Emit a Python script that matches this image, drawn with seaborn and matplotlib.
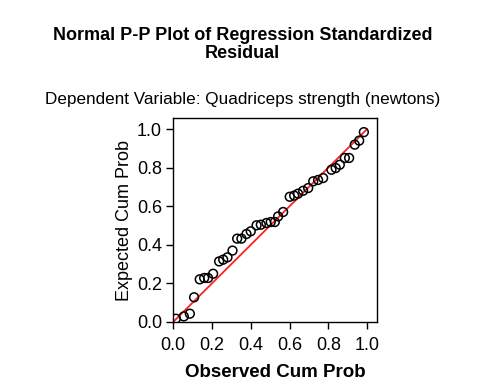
import matplotlib
matplotlib.use("Agg")
import matplotlib.pyplot as plt
import seaborn as sns

# observed vs expected cumulative probabilities
observed = [0.014, 0.055, 0.086, 0.108, 0.137, 0.160, 0.180, 0.206, 0.237, 0.258,
            0.280, 0.306, 0.330, 0.352, 0.378, 0.400, 0.430, 0.452, 0.481, 0.503,
            0.524, 0.541, 0.567, 0.601, 0.624, 0.644, 0.670, 0.696, 0.722, 0.747,
            0.773, 0.816, 0.838, 0.859, 0.885, 0.907, 0.936, 0.959, 0.983]
expected = [0.017, 0.029, 0.043, 0.128, 0.221, 0.228, 0.228, 0.250, 0.314, 0.323,
            0.335, 0.370, 0.432, 0.432, 0.456, 0.470, 0.501, 0.504, 0.513, 0.518,
            0.518, 0.547, 0.570, 0.649, 0.655, 0.665, 0.680, 0.694, 0.729, 0.736,
            0.746, 0.789, 0.798, 0.815, 0.850, 0.850, 0.919, 0.940, 0.984]
ref_line = [0.0, 1.0]
ticks = [0.0, 0.2, 0.4, 0.6, 0.8, 1.0]

sns.set_style("ticks")
plt.rcParams["font.family"] = ["Liberation Sans", "DejaVu Sans"]
plt.rcParams["text.color"] = "black"
plt.rcParams["axes.labelcolor"] = "black"

fig = plt.figure(figsize=(4.85, 3.87), dpi=100)
ax = fig.add_axes([0.357, 0.168, 0.42, 0.527])

sns.lineplot(x=ref_line, y=ref_line, color="#ff2020", linewidth=1.3, ax=ax)
sns.scatterplot(x=observed, y=expected, marker="o", s=40, facecolors="none",
                edgecolor="black", linewidth=1.1, ax=ax, zorder=3)

ax.set_xlim(0, 1.05)
ax.set_ylim(0, 1.057)
ax.set_xticks(ticks)
ax.set_yticks(ticks)
ax.set_xticklabels([f"{t:.1f}" for t in ticks])
ax.set_yticklabels([f"{t:.1f}" for t in ticks])
ax.tick_params(labelsize=13, length=5, width=1, direction="out",
               color="black", labelcolor="black")
ax.tick_params(axis="x", pad=6)
ax.tick_params(axis="y", pad=3)
for sp in ax.spines.values():
    sp.set_visible(True)
    sp.set_color("black")
    sp.set_linewidth(1)

ax.set_xlabel("Observed Cum Prob", fontsize=13.5, fontweight="bold", labelpad=7)
ax.set_ylabel("Expected Cum Prob", fontsize=13, labelpad=3)

fig.text(0.5, 0.909, "Normal P-P Plot of Regression Standardized",
         ha="center", va="center", fontsize=13, fontweight="bold")
fig.text(0.5, 0.862, "Residual",
         ha="center", va="center", fontsize=13, fontweight="bold")
fig.text(0.5, 0.742, "Dependent Variable: Quadriceps strength (newtons)",
         ha="center", va="center", fontsize=12.3)

fig.savefig("out.png", dpi=100)
plt.close()
